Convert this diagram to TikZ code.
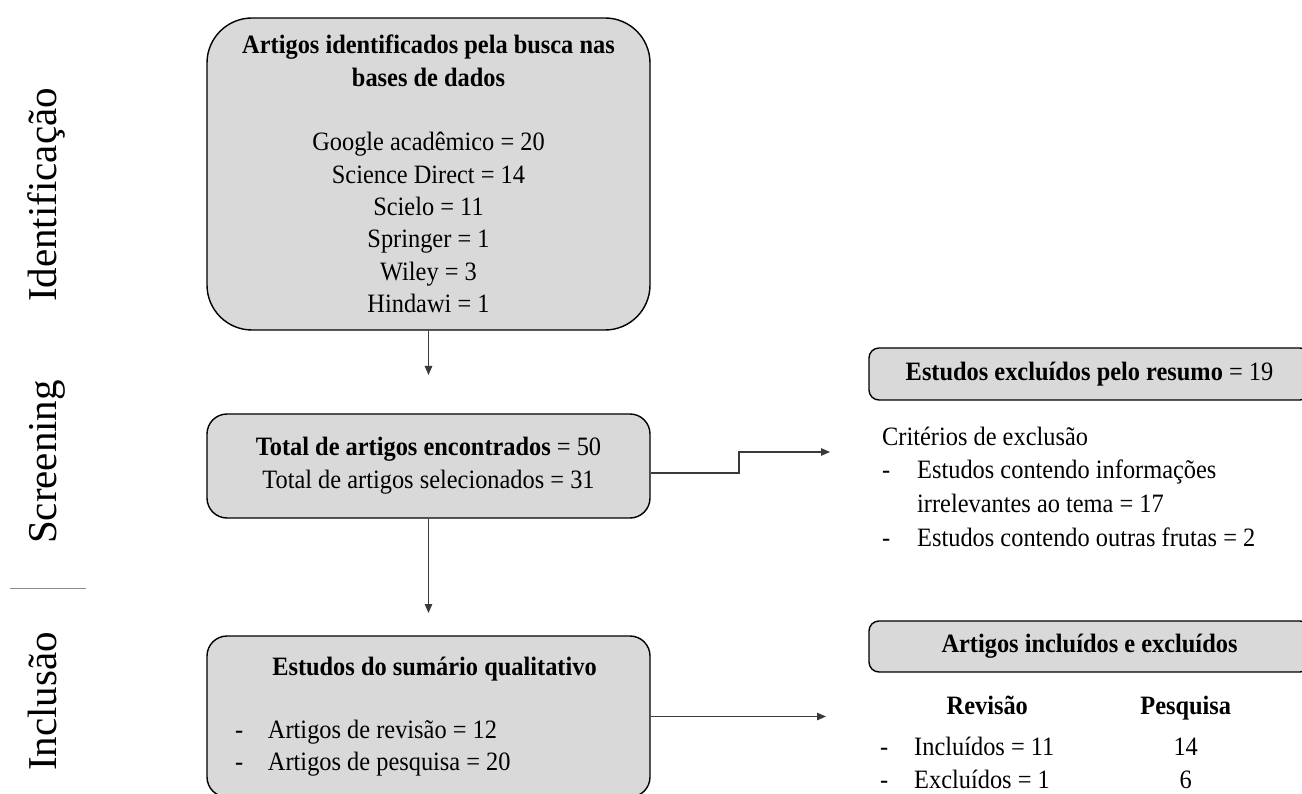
\documentclass[tikz,border=0pt]{standalone}
\usepackage{fontspec}
\setmainfont[FakeStretch=0.92]{Liberation Serif}
\newfontfamily\sidefont{Liberation Serif}
\usetikzlibrary{arrows.meta}
\definecolor{boxgray}{HTML}{D9D9D9}
\definecolor{linegray}{HTML}{3A3A3A}
\definecolor{sepgray}{HTML}{8C8C8C}
\begin{document}
\begin{tikzpicture}[x=1pt,y=-1pt,
  stagebox/.style={draw=black, line width=1.4pt, fill=boxgray, inner sep=0pt},
  arr/.style={draw=linegray, line width=1.1pt, -{Triangle[length=9pt,width=7.5pt]}},
  side/.style={font=\sidefont\fontsize{41}{41}\selectfont, rotate=90, anchor=base, inner sep=0pt},
  plain/.style={inner sep=0pt, anchor=base west}]
\useasboundingbox (0,0) rectangle (1302,794);

% stage labels
\node[side] (lid) at (56,195) {Identificação};
\node[side] (lsc) at (56,462) {Screening};
\node[side] (lin) at (56,701.5) {Inclusão};
\draw[sepgray, line width=1pt] (10,588) -- (86,588);

% main boxes
\node[stagebox, rounded corners=45pt, minimum width=443pt, minimum height=312pt,
      align=center, font=\fontsize{26.5}{32.3}\selectfont] (b1) at (428.5,174)
  {\textbf{Artigos identificados pela busca nas}\\\textbf{bases de dados}\\[32.3pt]
   Google acadêmico = 20\\Science Direct = 14\\Scielo = 11\\Springer = 1\\Wiley = 3\\Hindawi = 1};

\node[stagebox, rounded corners=20pt, minimum width=443pt, minimum height=104pt,
      align=center, font=\fontsize{26.5}{33}\selectfont] (b2) at (428.5,466)
  {\textbf{Total de artigos encontrados} = 50\\Total de artigos selecionados = 31};

\node[stagebox, rounded corners=20pt, minimum width=443pt, minimum height=161pt,
      text width=387pt, inner xsep=28pt, align=flush left, font=\fontsize{26.5}{31.5}\selectfont] (b3) at (428.5,716.5)
  {\makebox[387pt][c]{\hspace{12pt}\textbf{Estudos do sumário qualitativo}}\\[31.5pt]
   \makebox[33pt][l]{-}Artigos de revisão = 12\\
   \makebox[33pt][l]{-}Artigos de pesquisa = 20};

% right boxes
\node[stagebox, rounded corners=10pt, minimum width=441pt, minimum height=52pt,
      font=\fontsize{26.5}{30}\selectfont] (r1) at (1089.5,374)
  {\textbf{Estudos excluídos pelo resumo} = 19};
\node[stagebox, rounded corners=10pt, minimum width=441pt, minimum height=51pt,
      font=\fontsize{26.5}{30}\selectfont] (r2) at (1089.5,646.5)
  {\textbf{Artigos incluídos e excluídos}};

% right texts
\node[plain, font=\fontsize{26.5}{33.7}\selectfont] (crit) at (882,445)
  {\begin{tabular}[t]{@{}l@{}}
   Critérios de exclusão\\
   \makebox[35pt][l]{-}Estudos contendo informações\\
   \hspace*{35pt}irrelevantes ao tema = 17\\
   \makebox[35pt][l]{-}Estudos contendo outras frutas = 2
   \end{tabular}};

\node[plain, font=\fontsize{26.5}{33}\selectfont] (tab) at (880,714)
  {\begin{tabular}[t]{@{}l@{}l@{\hspace{86pt}}c@{}}
   \makebox[34pt][l]{} & \multicolumn{1}{c@{\hspace{86pt}}}{\textbf{Revisão}} & \textbf{Pesquisa}\\[8pt]
   \makebox[34pt][l]{-} & Incluídos = 11 & 14\\
   \makebox[34pt][l]{-} & Excluídos = 1 & 6
   \end{tabular}};

% connectors
\coordinate (t1) at (428.5,375);
\coordinate (t2) at (428.5,613);
\coordinate (k) at (739,452);
\coordinate (t3) at (830,452);
\coordinate (t4) at (826,716.5);
\draw[arr] (b1.south) -- (t1);
\draw[arr] (b2.south) -- (t2);
\draw[arr] ([yshift=-7pt]b2.east) -| (k) -- (t3);
\draw[arr] (b3.east) -- (t4);
\end{tikzpicture}
\end{document}
